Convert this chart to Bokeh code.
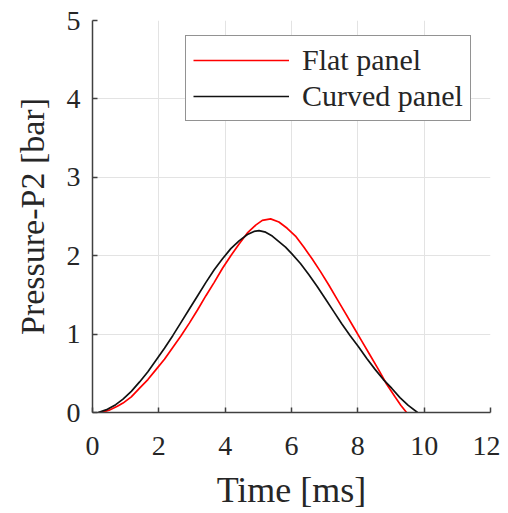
from bokeh.plotting import figure
from bokeh.models import FixedTicker, Legend, LegendItem
from bokeh.embed import file_html
from bokeh.resources import INLINE

# Flat panel (red)
t_flat = [0.27, 0.5, 0.75, 0.92, 1.17, 1.42, 1.67, 1.92, 2.17, 2.42, 2.67, 2.92, 3.17,
          3.42, 3.67, 3.92, 4.17, 4.42, 4.67, 4.92, 5.12, 5.37, 5.62, 5.87, 6.12, 6.37,
          6.62, 6.87, 7.12, 7.37, 7.62, 7.87, 8.12, 8.37, 8.62, 8.87, 9.12, 9.30, 9.47]
p_flat = [0.00, 0.03, 0.08, 0.12, 0.20, 0.31, 0.42, 0.55, 0.68, 0.83, 0.98, 1.14, 1.31,
          1.49, 1.66, 1.84, 2.00, 2.15, 2.29, 2.39, 2.45, 2.47, 2.43, 2.35, 2.25, 2.11,
          1.96, 1.80, 1.63, 1.45, 1.27, 1.09, 0.91, 0.73, 0.55, 0.36, 0.20, 0.09, 0.00]

# Curved panel (black)
t_curved = [0.17, 0.45, 0.70, 0.92, 1.17, 1.42, 1.67, 1.92, 2.17, 2.42, 2.67, 2.92, 3.17,
            3.42, 3.67, 3.92, 4.17, 4.42, 4.67, 4.87, 5.02, 5.22, 5.42, 5.62, 5.82, 6.02,
            6.27, 6.52, 6.77, 7.02, 7.27, 7.52, 7.77, 8.02, 8.27, 8.52, 8.77, 9.02, 9.27,
            9.52, 9.80]
p_curved = [0.00, 0.04, 0.10, 0.17, 0.27, 0.39, 0.52, 0.67, 0.82, 0.98, 1.15, 1.32, 1.49,
            1.66, 1.82, 1.96, 2.09, 2.19, 2.27, 2.31, 2.32, 2.30, 2.25, 2.18, 2.11, 2.02,
            1.90, 1.76, 1.61, 1.45, 1.29, 1.13, 0.98, 0.84, 0.69, 0.55, 0.42, 0.31, 0.19,
            0.09, 0.00]

x_ticks = [0, 2, 4, 6, 8, 10, 12]
y_ticks = [0, 1, 2, 3, 4, 5]
series_names = ["Flat panel", "Curved panel"]

FONT = "Liberation Serif"
TXT = "#262626"

p = figure(frame_width=398, frame_height=392, x_range=(0, 12), y_range=(0, 5),
           output_backend="svg", toolbar_location=None,
           min_border_left=92, min_border_right=10, min_border_top=20, min_border_bottom=92)
p.outline_line_color = None
p.background_fill_color = "white"

r1 = p.line(t_flat, p_flat, line_color="#ff0000", line_width=1.7)
r2 = p.line(t_curved, p_curved, line_color="#111111", line_width=1.7)

for ax, ticks in ((p.xaxis[0], x_ticks), (p.yaxis[0], y_ticks)):
    ax.ticker = FixedTicker(ticks=ticks)
    ax.major_tick_in = 5
    ax.major_tick_out = 0
    ax.minor_tick_line_color = None
    ax.axis_line_color = "#404040"
    ax.axis_line_width = 1.5
    ax.major_tick_line_color = "#404040"
    ax.major_tick_line_width = 1.5
    ax.major_label_text_font = FONT
    ax.major_label_text_font_size = "28px"
    ax.major_label_text_color = TXT
    ax.axis_label_text_font = FONT
    ax.axis_label_text_font_style = "normal"
    ax.axis_label_text_color = TXT

p.xaxis.axis_label = "Time [ms]"
p.yaxis.axis_label = "Pressure-P2 [bar]"
p.xaxis.axis_label_text_font_size = "36px"
p.yaxis.axis_label_text_font_size = "34px"
p.xaxis.major_label_standoff = 24
p.yaxis.major_label_standoff = 12
p.xaxis.axis_label_standoff = 12
p.yaxis.axis_label_standoff = 13

p.xgrid.ticker = FixedTicker(ticks=x_ticks)
p.ygrid.ticker = FixedTicker(ticks=y_ticks)
p.grid.grid_line_color = "#e3e3e3"
p.grid.grid_line_width = 1

legend = Legend(items=[LegendItem(label=series_names[0], renderers=[r1]),
                       LegendItem(label=series_names[1], renderers=[r2])],
                location=(93, 291), orientation="vertical")
legend.border_line_color = "#262626"
legend.border_line_width = 1.5
legend.background_fill_color = "white"
legend.background_fill_alpha = 1
legend.label_text_font = FONT
legend.label_text_font_size = "30px"
legend.label_text_color = TXT
legend.glyph_width = 96
legend.glyph_height = 30
legend.label_height = 30
legend.label_standoff = 13
legend.padding = 7
legend.spacing = 2
legend.margin = 0
p.add_layout(legend, "center")

open("out.html", "w").write(file_html(p, INLINE))
